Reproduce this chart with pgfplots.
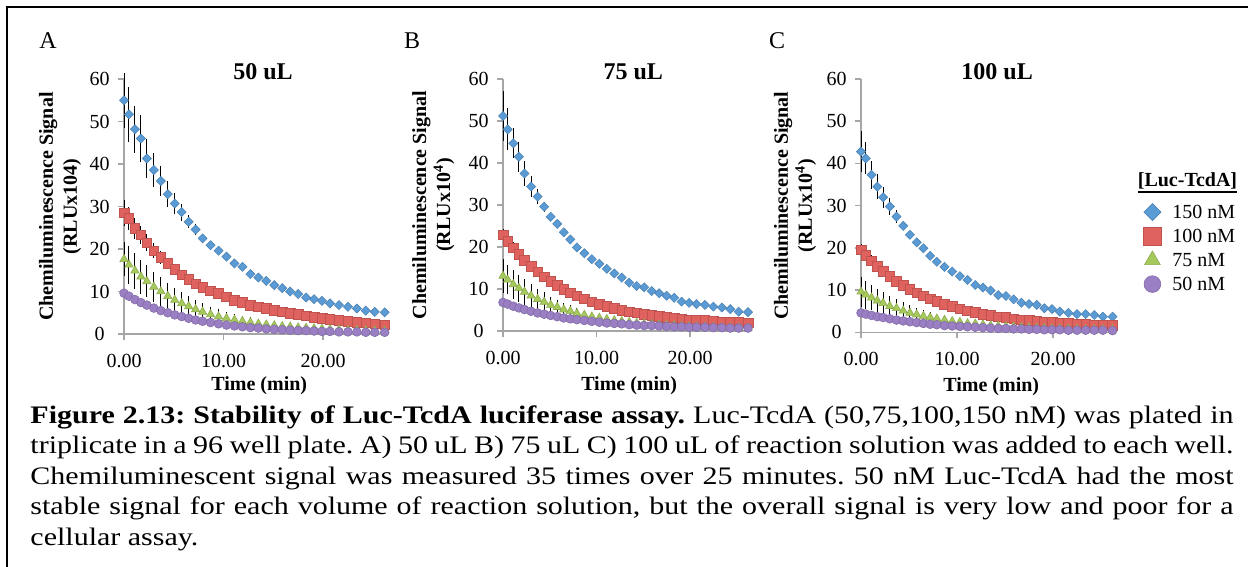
\documentclass[border=0pt]{standalone}
\usepackage{fontspec}
\setmainfont{Liberation Serif}
\usepackage{pgfplots}
\pgfplotsset{compat=1.18}
\usepackage{pgfplotstable}
\definecolor{axgray}{HTML}{A6A6A6}
\definecolor{cB}{HTML}{5B9BD5}
\definecolor{cR}{HTML}{E0625E}
\definecolor{cG}{HTML}{A6C95C}
\definecolor{cP}{HTML}{9A7FC4}

% t = time (min); b/r/g/p = 150/100/75/50 nM; *e = error
\pgfplotstableread{
t b be r re g ge p pe
0.0 55.0 6.5 28.5 3.0 17.6 4.0 9.6 0.6
0.5 51.7 6.5 27.2 2.8 16.3 4.5 8.9 0.6
1.1 48.2 5.5 24.9 2.5 14.9 4.2 8.1 0.5
1.7 46.0 5.5 23.3 2.2 13.5 4.0 7.4 0.5
2.3 41.3 4.5 21.5 2.0 12.4 3.8 6.8 0.5
3.0 38.6 4.0 19.6 1.8 11.1 3.5 6.1 0.4
3.7 36.0 3.5 18.0 1.6 10.0 3.3 5.5 0.4
4.4 32.9 3.0 16.6 1.4 8.9 3.0 5.0 0.4
5.1 30.7 2.5 15.2 1.2 8.0 2.8 4.5 0.3
5.8 28.7 2.0 13.9 1.0 7.2 2.6 4.1 0.3
6.5 26.4 1.5 12.9 0.9 6.5 2.4 3.7 0.3
7.2 24.6 1.2 11.8 0.8 5.8 2.2 3.3 0.3
7.9 22.5 1.0 11.0 0.7 5.2 2.0 3.0 0.2
8.7 20.9 0.8 10.2 0.6 4.6 1.8 2.7 0.2
9.5 19.6 0.6 9.6 0.5 4.1 1.7 2.4 0.2
10.3 18.2 0.5 8.8 0.5 3.7 1.5 2.1 0.2
11.1 16.6 0.4 8.0 0.4 3.3 1.4 1.9 0.2
11.9 15.8 0.4 7.5 0.4 3.0 1.3 1.7 0.2
12.7 14.1 0.3 6.8 0.4 2.7 1.2 1.5 0.2
13.5 13.3 0.3 6.4 0.3 2.4 1.0 1.4 0.2
14.3 12.5 0.3 6.0 0.3 2.2 0.9 1.2 0.1
15.1 11.5 0.3 5.6 0.3 2.0 0.8 1.1 0.1
15.9 10.8 0.3 5.2 0.3 1.8 0.7 1.0 0.1
16.7 10.0 0.3 4.9 0.3 1.7 0.6 0.9 0.1
17.5 9.4 0.3 4.6 0.3 1.5 0.5 0.8 0.1
18.3 8.6 0.3 4.3 0.3 1.4 0.5 0.8 0.1
19.1 8.2 0.3 4.0 0.3 1.3 0.4 0.7 0.1
19.9 7.8 0.3 3.7 0.3 1.2 0.4 0.6 0.1
20.7 7.2 0.3 3.5 0.3 1.1 0.3 0.6 0.1
21.6 6.8 0.3 3.2 0.3 1.0 0.3 0.5 0.1
22.5 6.4 0.3 3.0 0.3 0.9 0.3 0.5 0.1
23.4 6.0 0.3 2.8 0.3 0.9 0.2 0.5 0.1
24.3 5.5 0.3 2.6 0.3 0.8 0.2 0.4 0.1
25.2 5.2 0.3 2.4 0.3 0.8 0.2 0.4 0.1
26.2 5.1 0.3 2.2 0.3 0.7 0.2 0.4 0.1
}\dA

\pgfplotstableread{
t b be r re g ge p pe
0.0 51.2 6.0 22.9 1.5 13.1 4.0 6.8 0.5
0.5 48.0 5.0 21.4 1.4 12.2 3.5 6.4 0.5
1.1 44.7 3.6 19.8 1.3 11.1 3.5 5.9 0.4
1.7 41.5 3.6 18.3 1.2 10.2 3.2 5.5 0.4
2.3 37.5 3.0 16.9 1.1 9.3 3.0 5.1 0.4
3.0 34.4 2.5 15.4 1.0 8.4 2.8 4.7 0.3
3.7 32.0 1.8 14.1 0.9 7.6 2.5 4.3 0.3
4.4 29.6 1.2 12.9 0.8 6.9 2.3 4.0 0.3
5.1 27.2 0.8 11.8 0.7 6.2 2.0 3.7 0.3
5.8 25.5 0.6 10.9 0.6 5.7 1.8 3.4 0.2
6.5 23.5 0.5 10.0 0.5 5.1 1.6 3.1 0.2
7.2 21.8 0.4 9.1 0.5 4.7 1.4 2.9 0.2
7.9 19.9 0.3 8.4 0.4 4.2 1.2 2.7 0.2
8.7 18.5 0.3 7.7 0.4 3.8 1.0 2.5 0.2
9.5 17.1 0.3 7.0 0.4 3.4 0.9 2.3 0.2
10.3 16.0 0.3 6.4 0.3 3.1 0.8 2.1 0.2
11.1 14.8 0.3 5.9 0.3 2.8 0.7 1.9 0.1
11.9 13.7 0.3 5.4 0.3 2.5 0.6 1.8 0.1
12.7 12.7 0.3 5.0 0.3 2.3 0.5 1.7 0.1
13.5 11.5 0.3 4.6 0.3 2.1 0.4 1.5 0.1
14.3 10.7 0.3 4.3 0.3 1.9 0.4 1.4 0.1
15.1 10.4 0.3 4.0 0.3 1.7 0.3 1.3 0.1
15.9 9.5 0.3 3.7 0.3 1.6 0.3 1.3 0.1
16.7 9.0 0.3 3.5 0.3 1.5 0.3 1.2 0.1
17.5 8.4 0.3 3.3 0.3 1.4 0.3 1.1 0.1
18.3 7.9 0.3 3.1 0.3 1.3 0.3 1.0 0.1
19.1 7.0 0.3 2.9 0.3 1.2 0.2 1.0 0.1
19.9 6.7 0.3 2.7 0.3 1.1 0.2 0.9 0.1
20.7 6.4 0.3 2.6 0.3 1.0 0.2 0.9 0.1
21.6 6.2 0.3 2.5 0.3 1.0 0.2 0.9 0.1
22.5 5.8 0.3 2.4 0.3 0.9 0.2 0.8 0.1
23.4 5.6 0.3 2.2 0.3 0.8 0.2 0.8 0.1
24.3 5.2 0.3 2.2 0.3 0.8 0.2 0.7 0.1
25.2 4.6 0.3 2.1 0.3 0.8 0.2 0.7 0.1
26.2 4.5 0.3 2.0 0.3 0.7 0.2 0.7 0.1
}\dB

\pgfplotstableread{
t b be r re g ge p pe
0.0 42.8 4.8 19.5 1.5 9.6 3.5 4.6 0.4
0.5 41.2 3.8 18.3 1.4 8.9 3.3 4.3 0.4
1.1 37.3 3.3 16.9 1.3 8.2 3.0 4.0 0.3
1.7 34.5 3.0 15.7 1.2 7.5 2.8 3.7 0.3
2.3 32.0 2.5 14.5 1.0 6.9 2.6 3.5 0.3
3.0 29.8 2.0 13.3 0.9 6.2 2.4 3.2 0.3
3.7 27.4 1.5 12.1 0.8 5.7 2.2 2.9 0.2
4.4 25.2 1.0 11.1 0.7 5.1 2.0 2.7 0.2
5.1 23.1 0.8 10.2 0.6 4.6 1.8 2.5 0.2
5.8 21.3 0.6 9.4 0.5 4.2 1.6 2.3 0.2
6.5 19.9 0.5 8.6 0.5 3.8 1.4 2.1 0.2
7.2 18.1 0.4 7.9 0.4 3.5 1.2 1.9 0.2
7.9 16.7 0.3 7.3 0.4 3.2 1.0 1.8 0.1
8.7 15.5 0.3 6.7 0.3 2.9 0.9 1.6 0.1
9.5 14.4 0.3 6.1 0.3 2.6 0.8 1.5 0.1
10.3 13.3 0.3 5.6 0.3 2.4 0.7 1.4 0.1
11.1 12.4 0.3 5.1 0.3 2.1 0.6 1.3 0.1
11.9 11.2 0.3 4.7 0.3 2.0 0.5 1.2 0.1
12.7 10.6 0.3 4.3 0.3 1.8 0.4 1.1 0.1
13.5 9.9 0.3 4.0 0.3 1.6 0.4 1.0 0.1
14.3 8.8 0.3 3.7 0.3 1.5 0.3 0.9 0.1
15.1 8.6 0.3 3.5 0.3 1.4 0.3 0.9 0.1
15.9 7.8 0.3 3.2 0.3 1.3 0.3 0.8 0.1
16.7 7.0 0.3 3.0 0.3 1.2 0.3 0.8 0.1
17.5 6.7 0.3 2.8 0.3 1.1 0.3 0.7 0.1
18.3 6.5 0.3 2.6 0.3 1.0 0.2 0.7 0.1
19.1 5.7 0.3 2.5 0.3 1.0 0.2 0.6 0.1
19.9 5.5 0.3 2.4 0.3 0.9 0.2 0.6 0.1
20.7 4.9 0.3 2.2 0.3 0.9 0.2 0.6 0.1
21.6 4.6 0.3 2.1 0.3 0.8 0.2 0.5 0.1
22.5 4.3 0.3 2.0 0.3 0.8 0.2 0.5 0.1
23.4 4.3 0.3 1.9 0.3 0.7 0.2 0.5 0.1
24.3 4.1 0.3 1.8 0.3 0.7 0.2 0.5 0.1
25.2 3.7 0.3 1.7 0.3 0.7 0.2 0.5 0.1
26.2 3.7 0.3 1.7 0.3 0.7 0.2 0.4 0.1
}\dC

\pgfplotsset{
  panel/.style={
    scale only axis, xmin=0, xmax=26.5, ymin=0, ymax=60,
    axis lines*=left,
    axis line style={draw=axgray, line width=0.8pt},
    every tick/.style={draw=axgray, line width=0.8pt},
    tick align=outside, major tick length=3pt,
    xtick={0,10,20}, xticklabels={0.00,10.00,20.00},
    ytick={0,10,20,30,40,50,60},
    tick label style={font=\fontsize{10}{12}\selectfont},
    /pgf/number format/assume math mode=true,
    yticklabel style={anchor=center, xshift=-9.25pt},
    xticklabel style={anchor=center, yshift=-10.5pt},
    clip=false,
    title style={font=\bfseries\fontsize{12}{14}\selectfont, anchor=center},
    xlabel={Time (min)},
    xlabel style={font=\bfseries\fontsize{10}{12}\selectfont, anchor=center},
    ylabel style={font=\bfseries\fontsize{10}{12}\selectfont, align=center, anchor=center},
    legend image code/.code={%
      \path[draw=none,fill=none] (-5pt,-4pt) rectangle (5pt,4pt);
      \draw[##1,/tikz/every mark/.append style={scale=1.9}] plot coordinates {(0pt,0pt)};},
  },
  errs/.style={
    /pgfplots/error bars/y dir=both,
    /pgfplots/error bars/y explicit,
    /pgfplots/error bars/error mark=none,
    /pgfplots/error bars/error bar style={black, line width=0.5pt}},
  sB/.style={only marks, mark=square*, mark size=1.6pt,
    mark options={rotate=45, fill=cB, draw=cB!85!black, line width=0.3pt}, errs},
  sR/.style={only marks, mark=square*, mark size=2.4pt,
    mark options={fill=cR, draw=cR!85!black, line width=0.3pt}, errs},
  sG/.style={only marks, mark=triangle*, mark size=2.4pt,
    mark options={fill=cG, draw=cG!85!black, line width=0.3pt}, errs},
  sP/.style={only marks, mark=*, mark size=2.2pt,
    mark options={fill=cP, draw=cP!85!black, line width=0.3pt}, errs},
}

\begin{document}
\begin{tikzpicture}
\useasboundingbox (0,0) rectangle (626.5pt,-283.5pt);
% frame
\draw[line width=1pt] (3.5pt,-300pt) -- (3.5pt,-3.35pt) -- (624pt,-3.35pt);
% panel letters
\node[font=\fontsize{12}{14}\selectfont] at (24pt,-20.5pt) {A};
\node[font=\fontsize{12}{14}\selectfont] at (206pt,-20.5pt) {B};
\node[font=\fontsize{12}{14}\selectfont] at (388.5pt,-20.5pt) {C};

% Panel A
\begin{axis}[panel, at={(62pt,-167pt)}, anchor=south west,
  width=131.85pt, height=127.5pt,
  title={50 uL}, title style={at={(axis description cs:0.527,0.983)}},
  xlabel style={at={(axis description cs:0.513,-0.204)}},
  ylabel={Chemiluminescence Signal\\(RLUx104)},
  ylabel style={at={(axis description cs:-0.2427,0.5)}}]
\addplot[sB] table[x=t,y=b,y error=be] {\dA};
\addplot[sR] table[x=t,y=r,y error=re] {\dA};
\addplot[sG] table[x=t,y=g,y error=ge] {\dA};
\addplot[sP] table[x=t,y=p,y error=pe] {\dA};
\end{axis}

% Panel B
\begin{axis}[panel, at={(251.5pt,-165.5pt)}, anchor=south west,
  width=123.9pt, height=126pt,
  title={75 uL}, title style={at={(axis description cs:0.526,0.983)}},
  xlabel style={at={(axis description cs:0.509,-0.218)}},
  ylabel={Chemiluminescence Signal\\(RLUx10\textsuperscript{4})},
  ylabel style={at={(axis description cs:-0.2813,0.5)}}]
\addplot[sB] table[x=t,y=b,y error=be] {\dB};
\addplot[sR] table[x=t,y=r,y error=re] {\dB};
\addplot[sG] table[x=t,y=g,y error=ge] {\dB};
\addplot[sP] table[x=t,y=p,y error=pe] {\dB};
\end{axis}

% Panel C
\begin{axis}[panel, at={(430.5pt,-166.15pt)}, anchor=south west,
  width=127.2pt, height=126.65pt,
  title={100 uL}, title style={at={(axis description cs:0.535,0.983)}},
  xlabel style={at={(axis description cs:0.512,-0.213)}},
  ylabel={Chemiluminescence Signal\\(RLUx10\textsuperscript{4})},
  ylabel style={at={(axis description cs:-0.2594,0.5)}},
  legend cell align=left,
  legend style={draw=none, fill=none, inner sep=0pt, row sep=0pt, column sep=5pt,
    font=\fontsize{10}{12}\selectfont,
    nodes={inner sep=0pt, anchor=west, text height=9.3pt, text depth=2.7pt},
    at={(axis description cs:1.1046,0.5235)}, anchor=north west}]
\addplot[sB] table[x=t,y=b,y error=be] {\dC};
\addlegendentry{150 nM}
\addplot[sR] table[x=t,y=r,y error=re] {\dC};
\addlegendentry{100 nM}
\addplot[sG] table[x=t,y=g,y error=ge] {\dC};
\addlegendentry{75 nM}
\addplot[sP] table[x=t,y=p,y error=pe] {\dC};
\addlegendentry{50 nM}
\end{axis}

% legend title
\node[anchor=base, inner sep=0pt, font=\bfseries\fontsize{10}{12}\selectfont] at (593.75pt,-93.25pt) {[Luc-TcdA]};
\draw[line width=1pt] (569pt,-96.15pt) -- (618.5pt,-96.15pt);

% caption (text is horizontally stretched in the reference)
\node[anchor=base west, inner sep=0pt, text width=505.5pt, align=justify,
  xscale=1.19, transform shape,
  font=\fontsize{12.6}{15.25}\selectfont] at (15pt,-211.5pt)
  {\frenchspacing\hyphenpenalty=10000\exhyphenpenalty=10000
   \textbf{Figure 2.13: Stability of Luc-TcdA luciferase assay.} Luc-TcdA (50,75,100,150 nM) was plated in\linebreak
   triplicate in a 96 well plate. A) 50 uL B) 75 uL C) 100 uL of reaction solution was added to each well.\linebreak
   Chemiluminescent signal was measured 35 times over 25 minutes. 50 nM Luc-TcdA had the most\linebreak
   stable signal for each volume of reaction solution, but the overall signal is very low and poor for a\linebreak
   cellular assay.};
\end{tikzpicture}
\end{document}
